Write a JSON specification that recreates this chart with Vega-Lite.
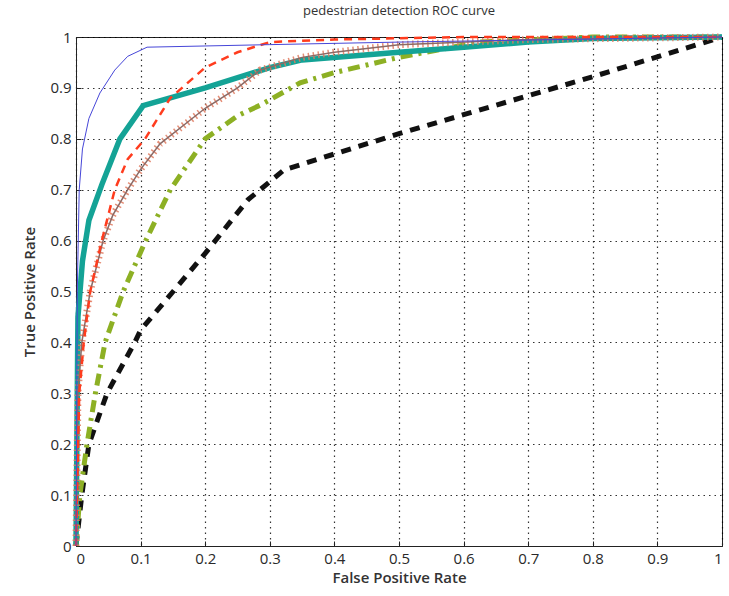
{
  "$schema": "https://vega.github.io/schema/vega-lite/v6.json",
  "width": 646,
  "height": 509,
  "autosize": "none",
  "padding": {"left": 76, "top": 37, "right": 7, "bottom": 50},
  "background": "white",
  "title": {"text": "pedestrian detection ROC curve", "fontSize": 13, "font": "Open Sans", "fontWeight": "normal", "color": "#333", "offset": 5},
  "config": {
    "view": {"stroke": "#222", "strokeWidth": 1},
    "axis": {
      "grid": true, "gridColor": "#000", "gridDash": [1.5, 4], "gridOpacity": 0.8, "gridWidth": 1.2,
      "domainColor": "#222", "tickColor": "#222", "tickSize": -5,
      "labelFont": "Open Sans", "labelFontSize": 15, "labelColor": "#2a2a2a",
      "titleFont": "Open Sans", "titleFontSize": 15, "titleFontWeight": 600, "titleColor": "#333"
    }
  },
  "data": {"values": [
    {"s": "blue", "x": 0, "y": 0}, {"s": "blue", "x": 0.002, "y": 0.5}, {"s": "blue", "x": 0.005, "y": 0.7}, {"s": "blue", "x": 0.01, "y": 0.78}, {"s": "blue", "x": 0.02, "y": 0.84}, {"s": "blue", "x": 0.037, "y": 0.89}, {"s": "blue", "x": 0.06, "y": 0.935}, {"s": "blue", "x": 0.08, "y": 0.962}, {"s": "blue", "x": 0.11, "y": 0.98}, {"s": "blue", "x": 0.3, "y": 0.985}, {"s": "blue", "x": 0.5, "y": 0.99}, {"s": "blue", "x": 1, "y": 1},
    {"s": "teal", "x": 0, "y": 0}, {"s": "teal", "x": 0.003, "y": 0.45}, {"s": "teal", "x": 0.01, "y": 0.56}, {"s": "teal", "x": 0.02, "y": 0.64}, {"s": "teal", "x": 0.04, "y": 0.71}, {"s": "teal", "x": 0.068, "y": 0.8}, {"s": "teal", "x": 0.104, "y": 0.865}, {"s": "teal", "x": 0.2, "y": 0.9}, {"s": "teal", "x": 0.3, "y": 0.94}, {"s": "teal", "x": 0.35, "y": 0.955}, {"s": "teal", "x": 0.5, "y": 0.97}, {"s": "teal", "x": 0.6, "y": 0.98}, {"s": "teal", "x": 0.7, "y": 0.99}, {"s": "teal", "x": 0.8, "y": 0.997}, {"s": "teal", "x": 1, "y": 1},
    {"s": "red", "x": 0, "y": 0}, {"s": "red", "x": 0.005, "y": 0.3}, {"s": "red", "x": 0.012, "y": 0.4}, {"s": "red", "x": 0.022, "y": 0.5}, {"s": "red", "x": 0.04, "y": 0.6}, {"s": "red", "x": 0.06, "y": 0.7}, {"s": "red", "x": 0.08, "y": 0.76}, {"s": "red", "x": 0.107, "y": 0.8}, {"s": "red", "x": 0.146, "y": 0.88}, {"s": "red", "x": 0.2, "y": 0.94}, {"s": "red", "x": 0.25, "y": 0.97}, {"s": "red", "x": 0.3, "y": 0.99}, {"s": "red", "x": 0.4, "y": 0.995}, {"s": "red", "x": 0.6, "y": 1}, {"s": "red", "x": 1, "y": 1},
    {"s": "brown", "x": 0, "y": 0}, {"s": "brown", "x": 0.003, "y": 0.3}, {"s": "brown", "x": 0.009, "y": 0.4}, {"s": "brown", "x": 0.022, "y": 0.5}, {"s": "brown", "x": 0.042, "y": 0.6}, {"s": "brown", "x": 0.057, "y": 0.65}, {"s": "brown", "x": 0.08, "y": 0.7}, {"s": "brown", "x": 0.1, "y": 0.74}, {"s": "brown", "x": 0.13, "y": 0.79}, {"s": "brown", "x": 0.17, "y": 0.83}, {"s": "brown", "x": 0.2, "y": 0.86}, {"s": "brown", "x": 0.25, "y": 0.9}, {"s": "brown", "x": 0.285, "y": 0.935}, {"s": "brown", "x": 0.35, "y": 0.96}, {"s": "brown", "x": 0.4, "y": 0.97}, {"s": "brown", "x": 0.5, "y": 0.985}, {"s": "brown", "x": 0.7, "y": 0.995}, {"s": "brown", "x": 1, "y": 1},
    {"s": "green", "x": 0, "y": 0}, {"s": "green", "x": 0.006, "y": 0.1}, {"s": "green", "x": 0.017, "y": 0.2}, {"s": "green", "x": 0.03, "y": 0.3}, {"s": "green", "x": 0.045, "y": 0.4}, {"s": "green", "x": 0.073, "y": 0.5}, {"s": "green", "x": 0.108, "y": 0.6}, {"s": "green", "x": 0.146, "y": 0.7}, {"s": "green", "x": 0.2, "y": 0.8}, {"s": "green", "x": 0.25, "y": 0.845}, {"s": "green", "x": 0.285, "y": 0.866}, {"s": "green", "x": 0.347, "y": 0.91}, {"s": "green", "x": 0.4, "y": 0.93}, {"s": "green", "x": 0.5, "y": 0.96}, {"s": "green", "x": 0.625, "y": 0.99}, {"s": "green", "x": 0.8, "y": 1}, {"s": "green", "x": 1, "y": 1},
    {"s": "black", "x": 0, "y": 0}, {"s": "black", "x": 0.009, "y": 0.1}, {"s": "black", "x": 0.02, "y": 0.2}, {"s": "black", "x": 0.048, "y": 0.3}, {"s": "black", "x": 0.091, "y": 0.4}, {"s": "black", "x": 0.1, "y": 0.424}, {"s": "black", "x": 0.2, "y": 0.575}, {"s": "black", "x": 0.266, "y": 0.68}, {"s": "black", "x": 0.322, "y": 0.739}, {"s": "black", "x": 0.5, "y": 0.81}, {"s": "black", "x": 0.8, "y": 0.922}, {"s": "black", "x": 1, "y": 1}
  ]},
  "encoding": {
    "x": {"field": "x", "type": "quantitative", "scale": {"domain": [0, 1], "nice": false},
      "axis": {"title": "False Positive Rate", "values": [0, 0.1, 0.2, 0.3, 0.4, 0.5, 0.6, 0.7, 0.8, 0.9, 1], "format": "~g", "labelPadding": 10, "titlePadding": 4}},
    "y": {"field": "y", "type": "quantitative", "scale": {"domain": [0, 1], "nice": false},
      "axis": {"title": "True Positive Rate", "values": [0, 0.1, 0.2, 0.3, 0.4, 0.5, 0.6, 0.7, 0.8, 0.9, 1], "format": "~g", "labelPadding": 10, "titlePadding": 12}},
    "order": {"field": "x", "type": "quantitative"}
  },
  "layer": [
    {"transform": [{"filter": "datum.s == 'black'"}], "mark": {"type": "line", "color": "#111", "strokeWidth": 5, "strokeDash": [10, 8]}},
    {"transform": [{"filter": "datum.s == 'green'"}], "mark": {"type": "line", "color": "#8db024", "strokeWidth": 5, "strokeDash": [12, 6, 3, 6]}},
    {"transform": [{"filter": "datum.s == 'teal'"}], "mark": {"type": "line", "color": "#14a396", "strokeWidth": 5.5}},
    {"transform": [{"filter": "datum.s == 'brown'"}], "mark": {"type": "line", "color": "#e07a5f", "strokeWidth": 7, "strokeDash": [1.5, 3.5], "opacity": 0.85}},
    {"transform": [{"filter": "datum.s == 'brown'"}], "mark": {"type": "line", "color": "#8a6a66", "strokeWidth": 1.5}},
    {"transform": [{"filter": "datum.s == 'red'"}], "mark": {"type": "line", "color": "#ff3c1e", "strokeWidth": 2.5, "strokeDash": [8, 6]}},
    {"transform": [{"filter": "datum.s == 'blue'"}], "mark": {"type": "line", "color": "#4646d8", "strokeWidth": 1}}
  ]
}
